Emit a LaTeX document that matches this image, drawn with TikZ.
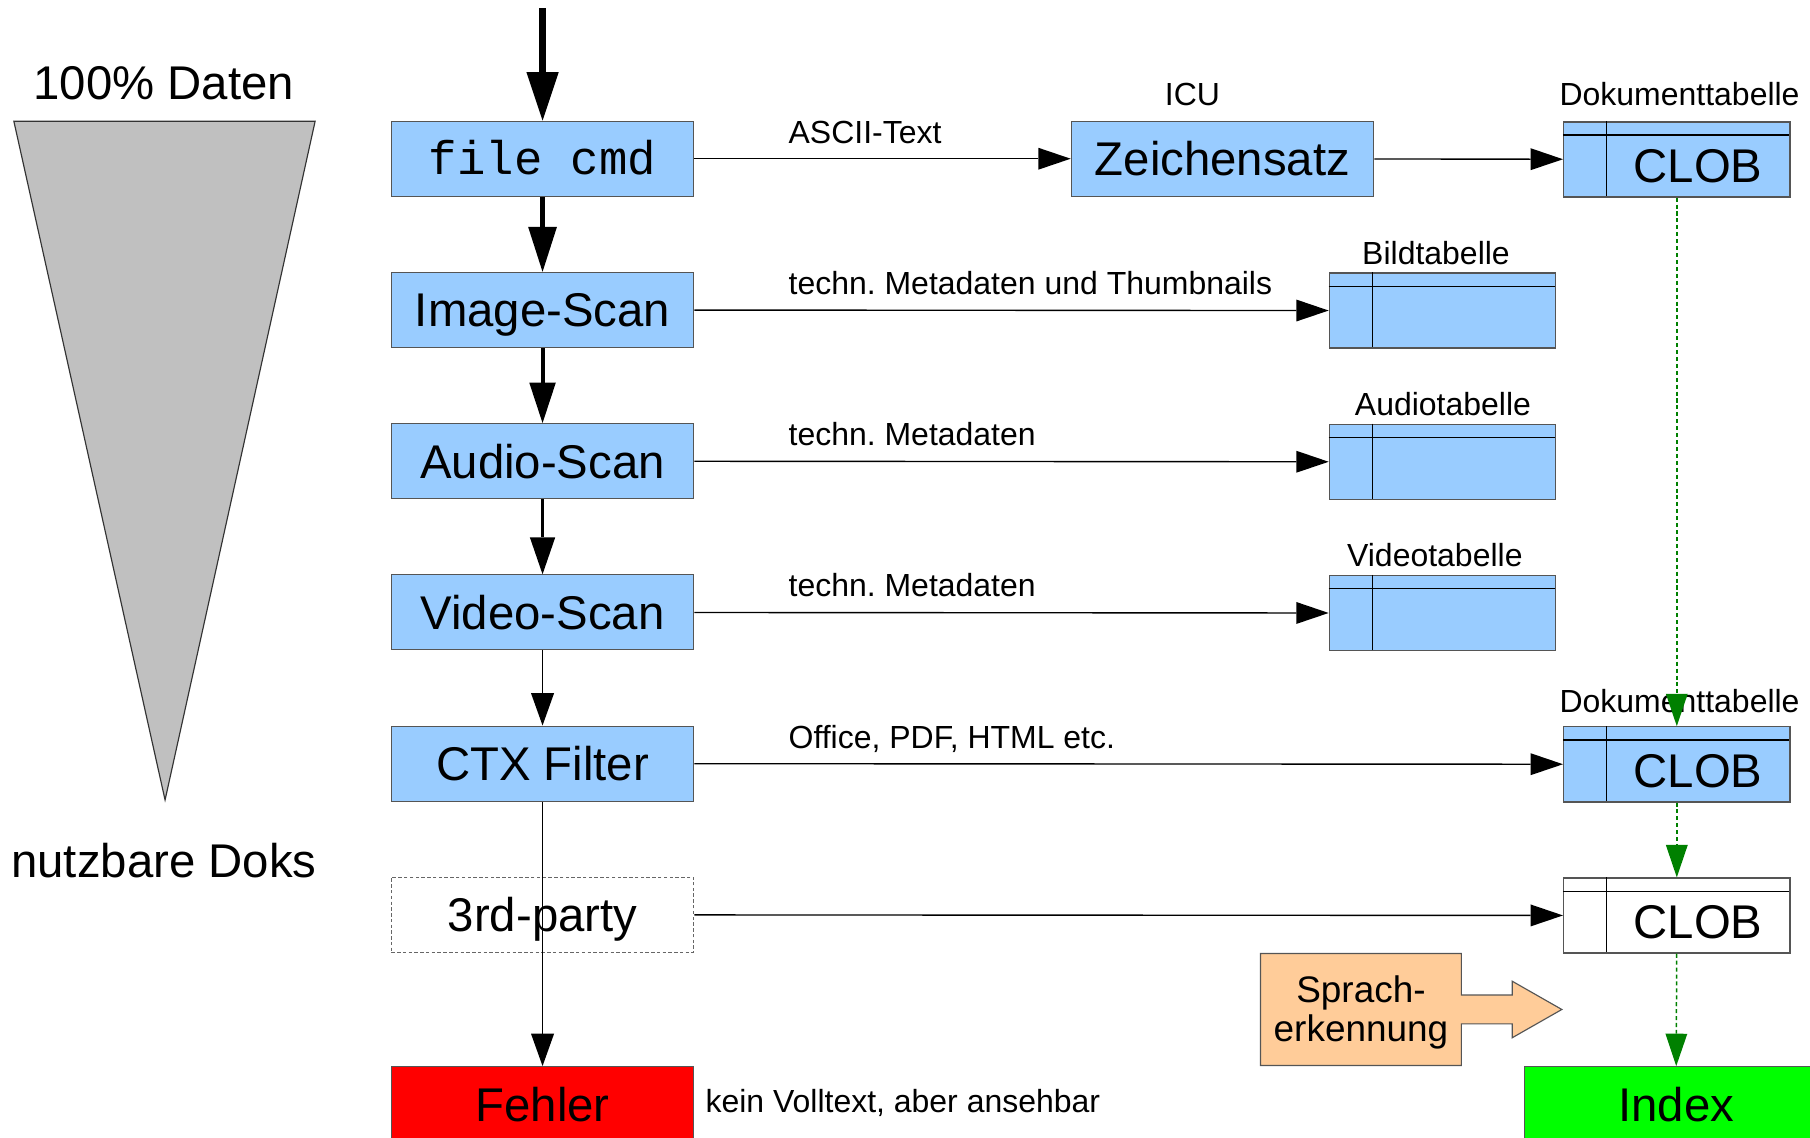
\documentclass[tikz,border=0pt]{standalone}
\usepackage{fontspec}
\setmainfont{Liberation Sans}
\newfontfamily\monofont{Liberation Mono}
\usetikzlibrary{arrows.meta}
\frenchspacing
\definecolor{boxblue}{HTML}{99CCFF}
\definecolor{boxedge}{HTML}{555555}
\definecolor{errred}{HTML}{FF0000}
\definecolor{idxgreen}{HTML}{00FF00}
\definecolor{dgreen}{HTML}{008000}
\definecolor{sprachfill}{HTML}{FFCC99}
\definecolor{trigray}{HTML}{C0C0C0}
\newcommand\bigf{\fontsize{41}{49}\selectfont}
\newcommand\smallf{\fontsize{27.7}{33}\selectfont}
\newcommand\midf{\fontsize{32}{34.5}\selectfont}
\newcommand\mktable[4]{%
  \node[tbl, fill=#4, anchor=north west] (#1) at (#2,#3) {};
  \draw[tline] (#2,#3+12) -- (#2+196,#3+12);
  \draw[tline] (#2+38,#3) -- (#2+38,#3+65);
}
\tikzset{
  proc/.style={draw=boxedge, line width=1pt, fill=boxblue, minimum width=262pt,
    minimum height=65pt, inner sep=0pt, text height=29.5pt, text depth=0pt, font=\bigf},
  tbl/.style={draw=boxedge, line width=1.2pt, minimum width=196pt, minimum height=65pt, inner sep=0pt},
  tline/.style={draw=black, line width=1.1pt},
  clob/.style={inner sep=0pt, text height=29.5pt, text depth=0pt, font=\bigf},
  lbl/.style={inner sep=0pt, anchor=base west, font=\smallf},
  tlbl/.style={inner sep=0pt, anchor=base, font=\smallf},
  harr/.style={draw=black, line width=1.2pt, -{Triangle[length=28pt,width=19pt,line width=0pt]}},
  garr/.style={draw=dgreen, line width=1.3pt, dash pattern=on 3.5pt off 2.5pt,
    -{Triangle[length=28pt,width=19pt,line width=0pt]}},
}
\begin{document}
\begin{tikzpicture}[x=1pt,y=-1pt]
\useasboundingbox (0,0) rectangle (1568,985);
\clip (0,0) rectangle (1568,985);

% funnel
\draw[draw=black!80, line width=1pt, fill=trigray] (12,105) -- (273,105) -- (143,693) -- cycle;
\node[inner sep=0pt, anchor=base, font=\bigf] (hundred) at (142,86) {100\% Daten};
\node[inner sep=0pt, anchor=base, font=\bigf] (nutzbar) at (142,760) {nutzbare Doks};

% main column
\node[proc, text height=27pt, font=\bigf\monofont] (fc) at (470,137.5) {file cmd};
\node[proc] (is) at (470,268.5) {Image-Scan};
\node[proc] (as) at (470,399.5) {Audio-Scan};
\node[proc] (vs) at (470,530.5) {Video-Scan};
\node[proc] (ctx) at (470,661.5) {CTX Filter};
\node[proc, fill=white, draw=black!60, dash pattern=on 3pt off 2pt] (tp) at (470,792.5) {3rd-party};
\node[proc, fill=errred] (fehler) at (470,956.5) {Fehler};
\node[lbl] (kein) at (611,964) {kein Volltext, aber ansehbar};

\node[proc] (zs) at (1059,137.5) {Zeichensatz};
\node[tlbl] (icu) at (1033,91) {ICU};

% tables
\mktable{t1}{1354}{105}{boxblue}
\mktable{tb}{1151}{236}{boxblue}
\mktable{ta}{1151}{367}{boxblue}
\mktable{tv}{1151}{498}{boxblue}
\mktable{t2}{1354}{629}{boxblue}
\mktable{t3}{1354}{760}{white}
\node[clob] (c1) at (1471,143.5) {CLOB};
\node[clob] (c2) at (1471,667.5) {CLOB};
\node[clob] (c3) at (1471,798.5) {CLOB};
\node[tlbl] (l1) at (1455,91) {Dokumenttabelle};
\node[tlbl] (lb) at (1244,229) {Bildtabelle};
\node[tlbl] (la) at (1250,360) {Audiotabelle};
\node[tlbl] (lv) at (1243,491) {Videotabelle};
\node[tlbl] (l2) at (1455,617) {Dokumenttabelle};

% index
\node[proc, fill=idxgreen] (idx) at (1452,956.5) {Index};

% Spracherkennung
\fill[sprachfill] (1092,826) -- (1266,826) -- (1266,862) -- (1310,862) -- (1310,850)
  -- (1353,874.5) -- (1310,899) -- (1310,887) -- (1266,887) -- (1266,923) -- (1092,923) -- cycle;
\draw[draw=boxedge, line width=1pt] (1092,826) -- (1266,826) -- (1266,862) -- (1310,862) -- (1310,850)
  -- (1353,874.5) -- (1310,899) -- (1310,887) -- (1266,887) -- (1266,923) -- (1092,923) -- cycle;
\node[inner sep=0pt, align=center, font=\midf] (sprach) at (1179,877) {Sprach-\\erkennung};

% horizontal labels
\node[lbl] (lascii) at (683,124) {ASCII-Text};
\node[lbl] (limg) at (683,255) {techn. Metadaten und Thumbnails};
\node[lbl] (laud) at (683,386) {techn. Metadaten};
\node[lbl] (lvid) at (683,517) {techn. Metadaten};
\node[lbl] (loff) at (683,648) {Office, PDF, HTML etc.};

% vertical flow
\coordinate (src) at (470,7);
\draw[line width=5.8pt, -{Triangle[length=42pt,width=28pt,line width=0pt]}] (src) -- (fc);
\draw[line width=3.8pt, -{Triangle[length=39pt,width=25pt,line width=0pt]}] (fc) -- (is);
\draw[line width=3.4pt, -{Triangle[length=35pt,width=23pt,line width=0pt]}] (is) -- (as);
\draw[line width=2pt, -{Triangle[length=32pt,width=22pt,line width=0pt]}] (as) -- (vs);
\draw[line width=1.2pt, -{Triangle[length=28pt,width=20pt,line width=0pt]}] (vs) -- (ctx);
\draw[line width=1.2pt, -{Triangle[length=28pt,width=20pt,line width=0pt]}] (ctx) -- (fehler);

% horizontal flow
\draw[harr] (fc) -- (zs);
\draw[harr] (zs) -- (t1);
\draw[harr] (is) -- (tb);
\draw[harr] (as) -- (ta);
\draw[harr] (vs) -- (tv);
\draw[harr] (ctx) -- (t2);
\draw[harr] (tp) -- (t3);

% green flow
\draw[garr] (t1) -- (t2);
\draw[garr] (t2) -- (t3);
\draw[garr] (t3) -- (idx);
\end{tikzpicture}
\end{document}
